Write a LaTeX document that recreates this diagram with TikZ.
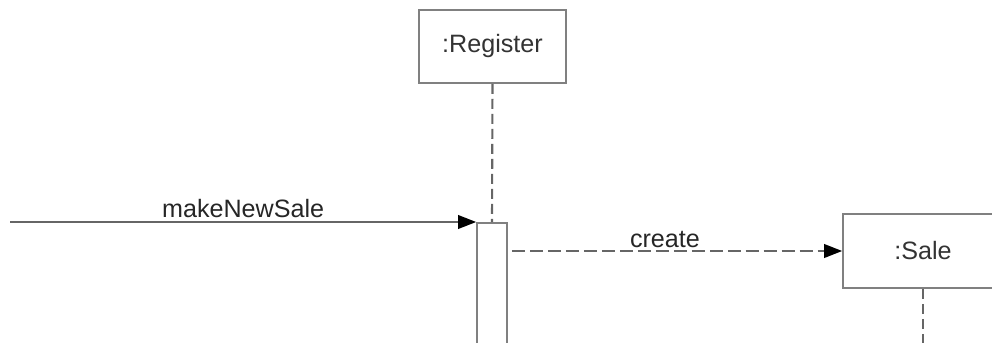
\documentclass[tikz,border=0pt]{standalone}
\usepackage{fontspec}
\setmainfont{Liberation Sans}
\usepackage{tikz}
\usetikzlibrary{arrows.meta, positioning, calc}

\begin{document}
\begin{tikzpicture}[x=0.02cm, y=-0.02cm,
  >={Triangle[length=0.36cm, width=0.27cm, fill=black, color=black]},
  font=\fontsize{14.3}{17}\selectfont,
  objbox/.style={draw=black!50, line width=0.9pt, text=black!80,
                 minimum width=147*0.02cm, minimum height=73*0.02cm, inner sep=0pt},
  actbox/.style={draw=black!50, line width=0.9pt, fill=white,
                 minimum width=30*0.02cm, minimum height=150*0.02cm, inner sep=0pt},
  lifeline/.style={draw=black!60, line width=1.2pt, dash pattern=on 0.2cm off 0.1cm},
  syncmsg/.style={draw=black!60, line width=1.1pt, ->},
  createmsg/.style={draw=black!60, line width=1.2pt, dash pattern=on 0.26cm off 0.1cm, ->},
  msglabel/.style={text=black!85, above, inner sep=2pt}]

\useasboundingbox (0,0) rectangle (992,342);
\clip (0,0) rectangle (992,342);

% objects
\node[objbox] (reg) at (492.5,46.5) {:Register};
\node[objbox, minimum width=160*0.02cm, minimum height=74*0.02cm] (sale) at (923,251) {:Sale};

% activation
\node[actbox, anchor=north] (act) at (492,222) {};

% lifelines
\draw[lifeline] (reg.south) -- (act.north);
\coordinate (saleend) at (923,350);
\draw[lifeline] (sale.south) -- (saleend);

% messages
\coordinate (caller) at (10,222);
\draw[syncmsg] (caller) -- (act.north west)
  node[msglabel, midway] {makeNewSale};
\draw[createmsg, shorten <=0.08cm] (act.east |- sale.west) -- (sale.west)
  node[msglabel, pos=0.47, inner sep=1pt] {create};

\end{tikzpicture}
\end{document}
